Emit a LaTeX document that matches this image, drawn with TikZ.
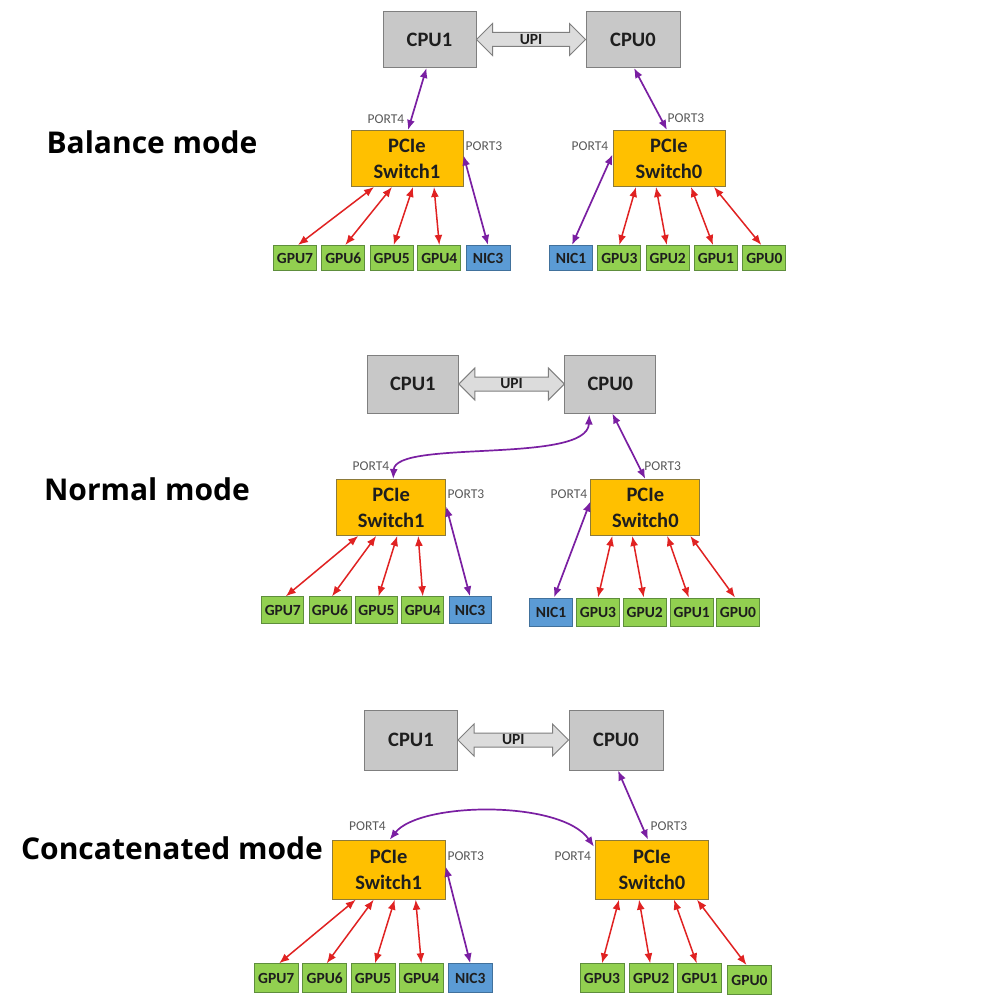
\documentclass[tikz,border=0pt]{standalone}
\usepackage{fontspec}
\setmainfont{Carlito}
\newfontfamily\modefont{Open Sans}
\usetikzlibrary{arrows.meta,calc}
\definecolor{cpufill}{HTML}{C8C8C8}
\definecolor{cpuedge}{HTML}{7F7F7F}
\definecolor{swfill}{HTML}{FFC000}
\definecolor{swedge}{HTML}{8C7A3A}
\definecolor{gpufill}{HTML}{92D050}
\definecolor{gpuedge}{HTML}{5E8E3C}
\definecolor{nicfill}{HTML}{5B9BD5}
\definecolor{nicedge}{HTML}{41719C}
\definecolor{linkpurple}{HTML}{7A1FA2}
\definecolor{linkred}{HTML}{E02222}
\definecolor{upifill}{HTML}{DCDCDC}
\definecolor{porttext}{HTML}{595959}
\definecolor{boxtext}{HTML}{1E1E1E}
\newcommand\upiarrow[3]{%
  \draw[upistyle] (#1.east) -- ($(#1.east)+(16,-16)$) -- ($(#1.east)+(16,-7)$)
    -- ($(#2.west)+(-16,-7)$) -- ($(#2.west)+(-16,-16)$) -- (#2.west)
    -- ($(#2.west)+(-16,16)$) -- ($(#2.west)+(-16,7)$) -- ($(#1.east)+(16,7)$)
    -- ($(#1.east)+(16,16)$) -- cycle;
  \node[upitext] (#3) at ($(#1.east)!0.5!(#2.west)$) {UPI};}
\begin{document}
\begin{tikzpicture}[x=1pt,y=-1pt,
  cpubox/.style={draw=cpuedge, fill=cpufill, line width=1pt, inner sep=0pt,
    minimum width=93pt, minimum height=56pt, text=boxtext,
    font=\bfseries\fontsize{20.5}{22}\selectfont},
  swbox/.style={draw=swedge, fill=swfill, line width=1pt, inner sep=0pt,
    minimum width=112pt, minimum height=56pt, align=center, text=boxtext,
    font=\bfseries\fontsize{20.5}{26}\selectfont},
  gpubox/.style={draw=gpuedge, fill=gpufill, line width=1pt, inner sep=0pt,
    minimum width=43pt, minimum height=26pt, text=boxtext,
    font=\bfseries\fontsize{15.5}{16}\selectfont},
  nicbox/.style={gpubox, draw=nicedge, fill=nicfill},
  upistyle/.style={draw=cpuedge, fill=upifill, line width=1pt},
  upitext/.style={inner sep=0pt, text=boxtext, font=\bfseries\fontsize{15.5}{16}\selectfont},
  port/.style={inner sep=0pt, text=porttext, font=\fontsize{13.5}{14}\selectfont},
  modelabel/.style={inner sep=0pt, font=\modefont\bfseries\fontsize{30}{32}\selectfont},
  pu/.style={draw=linkpurple, line width=1.7pt,
    {Latex[length=10pt,width=8pt]}-{Latex[length=10pt,width=8pt]}},
  rd/.style={draw=linkred, line width=1.5pt,
    {Latex[length=10pt,width=8pt]}-{Latex[length=10pt,width=8pt]}}
]
\useasboundingbox[fill=white] (0,0) rectangle (1000,1000);

% ---------------- Balance mode ----------------
\node[modelabel] (modea) at (152,142) {Balance mode};
\node[cpubox] (cpu1a) at (429.5,39.5) {CPU1};
\node[cpubox, minimum width=94pt] (cpu0a) at (633,39.5) {CPU0};
\upiarrow{cpu1a}{cpu0a}{upia}
\node[swbox] (sw1a) at (407,158.5) {PCIe\\Switch1};
\node[swbox] (sw0a) at (669,158.5) {PCIe\\Switch0};
\node[gpubox, minimum height=25pt] (g7a) at (295,258) {GPU7};
\node[gpubox, minimum height=25pt] (g6a) at (343.3,258) {GPU6};
\node[gpubox, minimum height=25pt] (g5a) at (391.7,258) {GPU5};
\node[gpubox, minimum height=25pt] (g4a) at (439.3,258) {GPU4};
\node[nicbox, minimum height=25pt, minimum width=44pt] (n3a) at (488,258) {NIC3};
\node[nicbox, minimum height=25pt] (n1a) at (571,258) {NIC1};
\node[gpubox, minimum height=25pt] (g3a) at (619.3,258) {GPU3};
\node[gpubox, minimum height=25pt] (g2a) at (667.7,258) {GPU2};
\node[gpubox, minimum height=25pt] (g1a) at (716,258) {GPU1};
\node[gpubox, minimum height=25pt] (g0a) at (764.3,258) {GPU0};
\node[port] (p4a1) at (386,119) {PORT4};
\node[port] (p3a1) at (484,146) {PORT3};
\node[port] (p3a0) at (686,118) {PORT3};
\node[port] (p4a0) at (590,146) {PORT4};
\draw[pu] ($(cpu1a.south)+(-3,0)$) -- ($(sw1a.north)+(1,0)$);
\draw[pu] ($(cpu0a.south)+(1,0)$) -- ($(sw0a.north)+(-2,0)$);
\draw[pu] ($(sw1a.east)+(0,-3)$) -- (n3a.north);
\draw[pu] ($(sw0a.west)+(0,-4)$) -- ($(n1a.north)+(1,0)$);

% ---------------- Normal mode ----------------
\node[modelabel] (modeb) at (147,489) {Normal mode};
\node[cpubox, minimum width=91pt, minimum height=58pt] (cpu1b) at (412.8,384) {CPU1};
\node[cpubox, minimum width=91pt, minimum height=58pt] (cpu0b) at (610.3,384) {CPU0};
\upiarrow{cpu1b}{cpu0b}{upib}
\node[swbox, minimum width=109pt] (sw1b) at (391.2,507.5) {PCIe\\Switch1};
\node[swbox, minimum width=109pt] (sw0b) at (645.3,507.5) {PCIe\\Switch0};
\node[gpubox, minimum width=42pt, minimum height=27pt] (g7b) at (282.8,610.3) {GPU7};
\node[gpubox, minimum width=42pt, minimum height=27pt] (g6b) at (330,610.3) {GPU6};
\node[gpubox, minimum width=42pt, minimum height=27pt] (g5b) at (376.5,610.3) {GPU5};
\node[gpubox, minimum width=42pt, minimum height=27pt] (g4b) at (422.8,610.3) {GPU4};
\node[nicbox, minimum width=42pt, minimum height=27pt] (n3b) at (470,610.3) {NIC3};
\node[nicbox, minimum width=43pt, minimum height=28pt] (n1b) at (551,612) {NIC1};
\node[gpubox, minimum width=43pt, minimum height=28pt] (g3b) at (598,612) {GPU3};
\node[gpubox, minimum width=43pt, minimum height=28pt] (g2b) at (644.7,612) {GPU2};
\node[gpubox, minimum width=43pt, minimum height=28pt] (g1b) at (691.7,612) {GPU1};
\node[gpubox, minimum width=43pt, minimum height=28pt] (g0b) at (738,612) {GPU0};
\node[port] (p4b1) at (371,466) {PORT4};
\node[port] (p3b1) at (466,494) {PORT3};
\node[port] (p3b0) at (662.7,466) {PORT3};
\node[port] (p4b0) at (569,494) {PORT4};
\draw[pu] ($(cpu0b.south west)+(25,1)$) .. controls +(-2,50) and +(2,-40) .. ($(sw1b.north)+(2,0)$);
\draw[pu] ($(cpu0b.south)+(2,0)$) -- (sw0b.north);
\draw[pu] ($(sw1b.east)+(0,-1)$) -- (n3b.north);
\draw[pu] ($(sw0b.west)+(0,-6)$) -- ($(n1b.north)+(3,0)$);

% ---------------- Concatenated mode ----------------
\node[modelabel] (modec) at (172,848) {Concatenated mode};
\node[cpubox, minimum height=60pt] (cpu1c) at (411,740) {CPU1};
\node[cpubox, minimum width=94pt, minimum height=60pt] (cpu0c) at (616,740) {CPU0};
\upiarrow{cpu1c}{cpu0c}{upic}
\node[swbox, minimum width=113pt, minimum height=59pt] (sw1c) at (388.7,869.7) {PCIe\\Switch1};
\node[swbox, minimum width=113pt, minimum height=59pt] (sw0c) at (652,869.7) {PCIe\\Switch0};
\node[gpubox, minimum width=44pt, minimum height=29pt] (g7c) at (276.2,978.3) {GPU7};
\node[gpubox, minimum width=44pt, minimum height=29pt] (g6c) at (324.7,978.3) {GPU6};
\node[gpubox, minimum width=44pt, minimum height=29pt] (g5c) at (373,978.3) {GPU5};
\node[gpubox, minimum width=44pt, minimum height=29pt] (g4c) at (421.3,978.3) {GPU4};
\node[nicbox, minimum width=44pt, minimum height=29pt] (n3c) at (470.3,978.3) {NIC3};
\node[gpubox, minimum width=44pt, minimum height=29pt] (g3c) at (602,978.3) {GPU3};
\node[gpubox, minimum width=44pt, minimum height=29pt] (g2c) at (651.2,978.3) {GPU2};
\node[gpubox, minimum width=44pt, minimum height=29pt] (g1c) at (699.7,978.3) {GPU1};
\node[gpubox, minimum width=44pt, minimum height=29pt] (g0c) at (749.5,980) {GPU0};
\node[port] (p4c1) at (367.5,826) {PORT4};
\node[port] (p3c1) at (465.8,856) {PORT3};
\node[port] (p3c0) at (669,826) {PORT3};
\node[port] (p4c0) at (572.8,856) {PORT4};
\draw[pu] ($(sw1c.north)+(1,0)$) .. controls +(30,-38) and +(-33,-47) .. ($(sw0c.north west)+(-1,7)$);
\draw[pu] ($(cpu0c.south)+(2,0)$) -- ($(sw0c.north)+(-4,0)$);
\draw[pu] ($(sw1c.east)+(0,-3)$) -- (n3c.north);

% ---------------- red GPU links (all three modes) ----------------
\foreach \s in {a,b,c}{
  \draw[rd] ($(sw1\s.south)+(-33,0)$) -- ($(g7\s.north)+(3,0)$);
  \draw[rd] ($(sw1\s.south)+(-15,0)$) -- ($(g6\s.north)+(2,0)$);
  \draw[rd] ($(sw1\s.south)+(6,0)$) -- ($(g5\s.north)+(2,0)$);
  \draw[rd] ($(sw1\s.south)+(27,0)$) -- (g4\s.north);
  \draw[rd] ($(sw0\s.south)+(-33,0)$) -- (g3\s.north);
  \draw[rd] ($(sw0\s.south)+(-13,0)$) -- ($(g2\s.north)+(-1,0)$);
  \draw[rd] ($(sw0\s.south)+(22,0)$) -- ($(g1\s.north)+(-3,0)$);
  \draw[rd] ($(sw0\s.south)+(45,0)$) -- ($(g0\s.north)+(-3,0)$);
}
\end{tikzpicture}
\end{document}
